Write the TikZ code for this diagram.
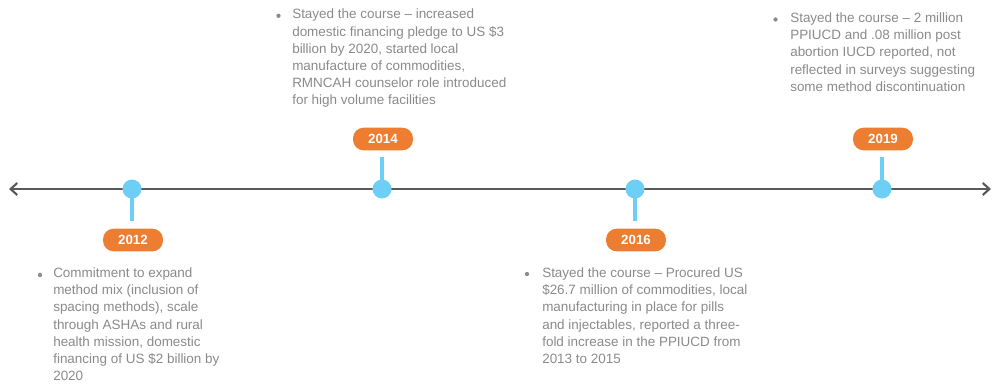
\documentclass[tikz,border=0pt]{standalone}
\usepackage{fontspec}
\setmainfont{Liberation Sans}
\usetikzlibrary{arrows.meta}
\definecolor{lineg}{HTML}{5A5A5A}
\definecolor{dotb}{HTML}{6DCFF6}
\definecolor{pill}{HTML}{ED7D31}
\definecolor{txtg}{HTML}{8A8A8A}
\tikzset{
  dot/.style={circle,fill=dotb,inner sep=0pt,minimum size=14pt},
  stem/.style={draw=dotb,line width=2.4pt},
  yearpill/.style={rounded corners=8pt,fill=pill,text=white,font=\bfseries\fontsize{10}{12}\selectfont,minimum width=45pt,minimum height=17pt,inner sep=0pt},
  desc/.style={anchor=north west,align=left,text=txtg,font=\fontsize{10.1}{12.9}\selectfont,inner sep=0pt},
  bul/.style={circle,fill=txtg,inner sep=0pt,minimum size=3.2pt},
}
\begin{document}
\begin{tikzpicture}[x=0.75pt,y=-0.75pt]
\useasboundingbox (0,0) rectangle (1000,387);
\coordinate (L) at (9,189);
\coordinate (R) at (991,189);
\draw[lineg,line width=1.6pt,{Straight Barb[length=5pt,width=9pt]}-{Straight Barb[length=5pt,width=9pt]}] (L) -- (R);
% dots
\node[dot] (d12) at (132,189) {};
\node[dot] (d14) at (382,189) {};
\node[dot] (d16) at (635,189) {};
\node[dot] (d19) at (882,189) {};
% stems end points
\coordinate (s12) at (132,221);
\coordinate (s14) at (382,157);
\coordinate (s16) at (635,221);
\coordinate (s19) at (882,157);
\draw[stem] (d12.center) -- (s12);
\draw[stem] (d14.center) -- (s14);
\draw[stem] (d16.center) -- (s16);
\draw[stem] (d19.center) -- (s19);
\node[dot] at (d12) {};
\node[dot] at (d14) {};
\node[dot] at (d16) {};
\node[dot] at (d19) {};
% pills
\node[yearpill] (y12) at (133,240) {2012};
\node[yearpill] (y14) at (383,139) {2014};
\node[yearpill] (y16) at (636,240) {2016};
\node[yearpill] (y19) at (883,139) {2019};
% texts
\node[bul] (b14) at (278.5,15.8) {};
\node[desc] (t14) at (292,8.8) {Stayed the course – increased\\domestic financing pledge to US \$3\\billion by 2020, started local\\manufacture of commodities,\\RMNCAH counselor role introduced\\for high volume facilities};
\node[bul] (b12) at (40,275) {};
\node[desc] (t12) at (53,267.5) {Commitment to expand\\method mix (inclusion of\\spacing methods), scale\\through ASHAs and rural\\health mission, domestic\\financing of US \$2 billion by\\2020};
\node[bul] (b16) at (527,274) {};
\node[desc] (t16) at (542,267.5) {Stayed the course – Procured US\\\$26.7 million of commodities, local\\manufacturing in place for pills\\and injectables, reported a three-\\fold increase in the PPIUCD from\\2013 to 2015};
\node[bul] (b19) at (775.5,19.5) {};
\node[desc] (t19) at (790,12.5) {Stayed the course – 2 million\\PPIUCD and .08 million post\\abortion IUCD reported, not\\reflected in surveys suggesting\\some method discontinuation};
\end{tikzpicture}
\end{document}
